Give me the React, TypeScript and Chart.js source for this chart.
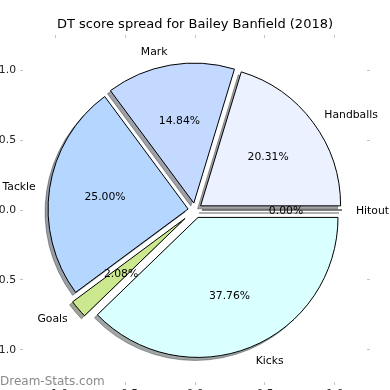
import React, { useEffect, useRef } from "react";
import { Chart, registerables } from "chart.js";

Chart.register(...registerables);

// ---- data ----
const TITLE = "DT score spread for Bailey Banfield (2018)";
const CATEGORIES = ["Hitout", "Kicks", "Goals", "Tackle", "Mark", "Handballs"];
const SHARES = [0.0, 37.76, 2.08, 25.0, 14.84, 20.31];
const AXIS_TICKS = [-1.0, -0.5, 0.0, 0.5, 1.0];
const WATERMARK = "Dream-Stats.com";

// ---- styles ----
const COLORS = ["#ffffff", "#d9ffff", "#cbe88e", "#b4d6ff", "#c4d9ff", "#ebf1ff"];
const EXPLODE = [7, 8, 13, 7, 7, 7];
const RADIUS = 140;
const AXIS_LIMIT = 1.229;
const SHADOW_DX = -3;
const SHADOW_DY = 3;
const FONT = "'DejaVu Sans', sans-serif";
const SMALL = 10.8;

function shadowColor(hex: string): string {
  const h = hex.replace("#", "");
  const r = parseInt(h.slice(0, 2), 16);
  const g = parseInt(h.slice(2, 4), 16);
  const b = parseInt(h.slice(4, 6), 16);
  return `rgba(${Math.round(r * 0.3)},${Math.round(g * 0.3)},${Math.round(b * 0.3)},0.5)`;
}

const fmtTick = (v: number) => (v < 0 ? "\u2212" : "") + Math.abs(v).toFixed(1);
const setTicks = (s: any) => {
  s.ticks = AXIS_TICKS.map((v) => ({ value: v }));
};
const fixSize = (size: number) => (s: any) => {
  if (s.isHorizontal()) s.height = size;
  else s.width = size;
  s.paddingTop = 0;
  s.paddingBottom = 0;
  s.paddingLeft = 0;
  s.paddingRight = 0;
};

const gridOpts = {
  display: true,
  drawOnChartArea: false,
  drawTicks: true,
  tickLength: 3,
  color: "#c4c4c4",
  lineWidth: 1,
};

function arcGeom(arc: any) {
  return arc.getProps(["x", "y", "startAngle", "endAngle", "outerRadius", "circumference"], true);
}

const pieArt = {
  id: "pieArt",
  beforeDatasetsDraw(chart: any) {
    const ctx = chart.ctx;
    const meta = chart.getDatasetMeta(0);
    meta.data.forEach((arc: any, i: number) => {
      const p = arcGeom(arc);
      const mid = (p.startAngle + p.endAngle) / 2;
      const ox = Math.cos(mid) * EXPLODE[i] + SHADOW_DX;
      const oy = Math.sin(mid) * EXPLODE[i] + SHADOW_DY;
      const col = shadowColor(COLORS[i]);
      ctx.save();
      ctx.translate(ox, oy);
      ctx.beginPath();
      ctx.moveTo(p.x, p.y);
      ctx.arc(p.x, p.y, p.outerRadius, p.startAngle, p.endAngle);
      ctx.closePath();
      ctx.fillStyle = col;
      ctx.strokeStyle = col;
      ctx.lineWidth = 1;
      ctx.lineJoin = "miter";
      if (p.endAngle > p.startAngle) ctx.fill();
      ctx.stroke();
      ctx.restore();
    });
  },
  beforeDatasetDraw(chart: any, args: any) {
    if (args.index !== 0) return;
    const ctx = chart.ctx;
    const meta = chart.getDatasetMeta(0);
    meta.data.forEach((arc: any, i: number) => {
      const p = arcGeom(arc);
      const mid = (p.startAngle + p.endAngle) / 2;
      ctx.save();
      ctx.translate(Math.cos(mid) * EXPLODE[i], Math.sin(mid) * EXPLODE[i]);
      if (p.circumference > 0) {
        arc.draw(ctx, chart.chartArea);
      } else {
        ctx.beginPath();
        ctx.moveTo(p.x, p.y);
        ctx.lineTo(p.x + Math.cos(p.startAngle) * p.outerRadius, p.y + Math.sin(p.startAngle) * p.outerRadius);
        ctx.strokeStyle = "#000";
        ctx.lineWidth = 1;
        ctx.stroke();
      }
      ctx.restore();
    });
    return false;
  },
  afterDatasetsDraw(chart: any) {
    const ctx = chart.ctx;
    const meta = chart.getDatasetMeta(0);
    const total = SHARES.reduce((a, b) => a + b, 0);
    ctx.save();
    ctx.font = `${SMALL}px ${FONT}`;
    ctx.fillStyle = "#000";
    ctx.textBaseline = "middle";
    meta.data.forEach((arc: any, i: number) => {
      const p = arcGeom(arc);
      const mid = (p.startAngle + p.endAngle) / 2;
      const c = Math.cos(mid);
      const s = Math.sin(mid);
      const o = EXPLODE[i];
      const lr = o + 1.1 * p.outerRadius;
      ctx.textAlign = c > 0 ? "left" : "right";
      ctx.fillText(CATEGORIES[i], p.x + c * lr, p.y + s * lr + 1);
      const pr = o + 0.6 * p.outerRadius;
      ctx.textAlign = "center";
      ctx.fillText(((SHARES[i] / total) * 100).toFixed(2) + "%", p.x + c * pr, p.y + s * pr + 1);
    });
    ctx.restore();
  },
  afterDraw(chart: any) {
    const ctx = chart.ctx;
    ctx.save();
    ctx.font = `12px ${FONT}`;
    ctx.fillStyle = "#8a8a8a";
    ctx.textAlign = "left";
    ctx.textBaseline = "alphabetic";
    ctx.fillText(WATERMARK, 0, 385);
    ctx.restore();
  },
};

export default function App() {
  const ref = useRef<HTMLCanvasElement | null>(null);

  useEffect(() => {
    if (!ref.current) return;
    const tickFont = { family: FONT, size: SMALL };
    const chart = new Chart(ref.current, {
      type: "pie",
      data: {
        labels: CATEGORIES,
        datasets: [
          {
            data: SHARES,
            backgroundColor: COLORS,
            borderColor: "#000",
            borderWidth: 1,
            borderJoinStyle: "miter",
            hoverOffset: 0,
            offset: 0,
            radius: RADIUS,
            rotation: 90,
          } as any,
        ],
      },
      options: {
        responsive: false,
        animation: false,
        events: [],
        layout: { padding: 0 },
        scales: {
          x: {
            type: "linear",
            position: "bottom",
            min: -AXIS_LIMIT,
            max: AXIS_LIMIT,
            afterBuildTicks: setTicks,
            afterFit: fixSize(8),
            grid: gridOpts,
            border: { display: false },
            ticks: { callback: (v: any) => fmtTick(Number(v)), font: tickFont, color: "#222", padding: 3, maxRotation: 0 },
          },
          x2: {
            type: "linear",
            position: "top",
            min: -AXIS_LIMIT,
            max: AXIS_LIMIT,
            afterBuildTicks: setTicks,
            afterFit: fixSize(7),
            grid: gridOpts,
            border: { display: false },
            ticks: { display: false },
          },
          y: {
            type: "linear",
            position: "left",
            min: -AXIS_LIMIT,
            max: AXIS_LIMIT,
            afterBuildTicks: setTicks,
            afterFit: fixSize(23),
            grid: gridOpts,
            border: { display: false },
            ticks: { callback: (v: any) => fmtTick(Number(v)), font: tickFont, color: "#222", padding: 4 },
          },
          y2: {
            type: "linear",
            position: "right",
            min: -AXIS_LIMIT,
            max: AXIS_LIMIT,
            afterBuildTicks: setTicks,
            afterFit: fixSize(23),
            grid: gridOpts,
            border: { display: false },
            ticks: { display: false },
          },
        } as any,
        plugins: {
          legend: { display: false },
          tooltip: { enabled: false },
          title: {
            display: true,
            text: TITLE,
            color: "#000",
            font: { family: FONT, size: 13, weight: "normal", lineHeight: 1 },
            padding: { top: 18, bottom: 0 },
          },
        },
      } as any,
      plugins: [pieArt],
    });
    return () => chart.destroy();
  }, []);

  return (
    <div style={{ position: "fixed", left: 0, top: 0, width: 390, height: 390, background: "#fff" }}>
      <canvas ref={ref} width={390} height={390} style={{ display: "block", width: 390, height: 390 }} />
    </div>
  );
}
